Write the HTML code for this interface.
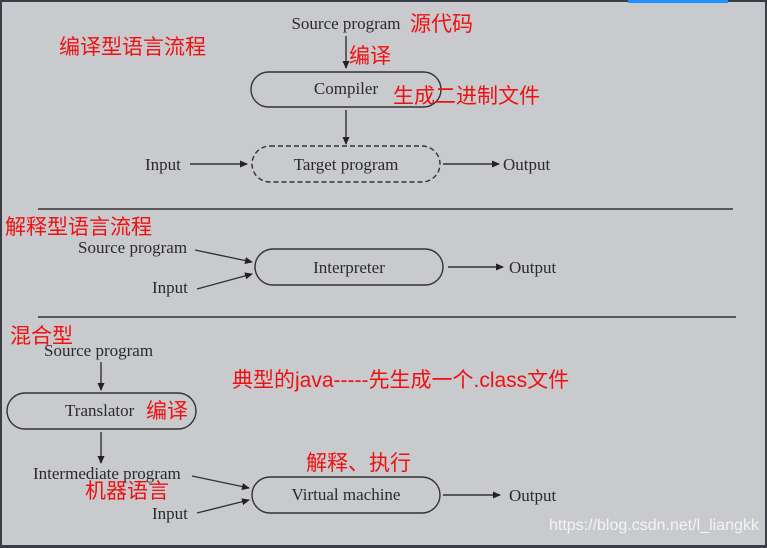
<!DOCTYPE html>
<html><head><meta charset="utf-8"><style>
html,body{margin:0;padding:0;background:#c9cacd;}
svg{display:block}
.s{font-family:"Liberation Serif",serif;font-size:17px;fill:#2a2a2a}
.r{font-family:"Liberation Sans","Noto Sans CJK SC",sans-serif;fill:#f01010;font-size:21px}
</style></head><body>
<svg width="767" height="548" viewBox="0 0 767 548" xmlns="http://www.w3.org/2000/svg">
<defs><marker id="a" markerWidth="8" markerHeight="8" refX="7" refY="4" orient="auto" markerUnits="userSpaceOnUse"><path d="M0,0.5 L8,4 L0,7.5 Z" fill="#222"/></marker></defs>
<rect x="0" y="0" width="767" height="548" fill="#c9cacd"/>
<rect x="0" y="0" width="767" height="2" fill="#3a3d45"/>
<rect x="0" y="0" width="2" height="548" fill="#3a3d45"/>
<rect x="0" y="545" width="767" height="3" fill="#3a3d45"/>
<rect x="765" y="0" width="2" height="548" fill="#3a3d45"/>
<rect x="628" y="0" width="100" height="3" fill="#1e90ff"/>
<g stroke="#333" stroke-width="1.4" fill="none">
<line x1="346" y1="36" x2="346" y2="68" marker-end="url(#a)"/>
<rect x="251" y="72" width="190" height="35" rx="17.5"/>
<line x1="346" y1="110" x2="346" y2="144" marker-end="url(#a)"/>
<rect x="252" y="146" width="188" height="36" rx="18" stroke-dasharray="5,3"/>
<line x1="190" y1="164" x2="247" y2="164" marker-end="url(#a)"/>
<line x1="443" y1="164" x2="499" y2="164" marker-end="url(#a)"/>
<line x1="38" y1="209" x2="733" y2="209"/>
<rect x="255" y="249" width="188" height="36" rx="18"/>
<line x1="195" y1="250" x2="252" y2="262" marker-end="url(#a)"/>
<line x1="197" y1="289" x2="252" y2="274" marker-end="url(#a)"/>
<line x1="448" y1="267" x2="503" y2="267" marker-end="url(#a)"/>
<line x1="38" y1="317" x2="736" y2="317"/>
<line x1="101" y1="362" x2="101" y2="390" marker-end="url(#a)"/>
<rect x="7" y="393" width="189" height="36" rx="18"/>
<line x1="101" y1="432" x2="101" y2="463" marker-end="url(#a)"/>
<rect x="252" y="477" width="188" height="36" rx="18"/>
<line x1="192" y1="476" x2="249" y2="488" marker-end="url(#a)"/>
<line x1="197" y1="513" x2="249" y2="500" marker-end="url(#a)"/>
<line x1="443" y1="495" x2="500" y2="495" marker-end="url(#a)"/>
</g>
<text class="s" x="346" y="29" text-anchor="middle">Source program</text>
<text class="s" x="346" y="94" text-anchor="middle">Compiler</text>
<text class="s" x="346" y="170" text-anchor="middle">Target program</text>
<text class="s" x="145" y="170">Input</text>
<text class="s" x="503" y="170">Output</text>
<text class="s" x="78" y="253">Source program</text>
<text class="s" x="349" y="273" text-anchor="middle">Interpreter</text>
<text class="s" x="152" y="293">Input</text>
<text class="s" x="509" y="273">Output</text>
<text class="s" x="44" y="356">Source program</text>
<text class="s" x="65" y="416">Translator</text>
<text class="s" x="33" y="479">Intermediate program</text>
<text class="s" x="346" y="500" text-anchor="middle">Virtual machine</text>
<text class="s" x="152" y="519">Input</text>
<text class="s" x="509" y="501">Output</text>
<text class="r" x="410" y="31">源代码</text>
<text class="r" x="59" y="54">编译型语言流程</text>
<text class="r" x="349" y="63">编译</text>
<text class="r" x="393" y="103">生成二进制文件</text>
<text class="r" x="5" y="234">解释型语言流程</text>
<text class="r" x="10" y="343">混合型</text>
<text class="r" x="232" y="387">典型的java-----先生成一个.class文件</text>
<text class="r" x="146" y="418">编译</text>
<text class="r" x="306" y="470">解释、执行</text>
<text class="r" x="85" y="498">机器语言</text>
<text x="549" y="530" font-family="Liberation Sans,sans-serif" font-size="16" fill="#f4f4f4">https://blog.csdn.net/l_liangkk</text>
</svg>
</body></html>
